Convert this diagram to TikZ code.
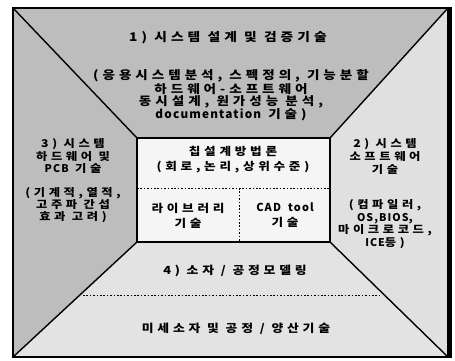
\documentclass[tikz,border=0pt]{standalone}
\usepackage{fontspec}
\newfontfamily\kfont{Noto Sans CJK KR}[FakeStretch=1.15,LetterSpace=34]
\newfontfamily\lfont{Noto Sans CJK KR}[LetterSpace=10]
\begin{document}
\begin{tikzpicture}[x=1bp,y=-1bp,
  frame/.style={line width=1.4bp,black},
  sep/.style={dash pattern=on 1.6bp off 1.8bp,line width=0.8bp},
  txt/.style={inner sep=0pt,align=center,font=\kfont\bfseries\fontsize{11.2}{12}\selectfont},
  ttl/.style={txt,font=\kfont\bfseries\fontsize{12}{12}\selectfont}]
\useasboundingbox (0,0) rectangle (455,360);
% corners
\coordinate (A) at (13,8);
\coordinate (B) at (448,8);
\coordinate (C) at (448,357);
\coordinate (D) at (13,357);
\coordinate (a) at (137,138);
\coordinate (b) at (330,138);
\coordinate (c) at (330,242);
\coordinate (d) at (137,242);
% region fills
\fill[black!26] (A) -- (B) -- (b) -- (a) -- cycle;
\fill[black!26] (A) -- (a) -- (d) -- (D) -- cycle;
\fill[black!12] (B) -- (C) -- (c) -- (b) -- cycle;
\fill[black!11] (D) -- (d) -- (c) -- (C) -- cycle;
\fill[black!4] (a) rectangle (c);
% lines
\draw[frame] (A) rectangle (C);
\draw[line width=3.5bp] (450,7) -- (450,358);
\draw[frame] (A) -- (a) (B) -- (b) (C) -- (c) (D) -- (d);
\draw[frame,line width=1.1bp] (a) rectangle (c);
\coordinate (m1) at (137,188);
\coordinate (m2) at (330,188);
\coordinate (m3) at (239,188);
\coordinate (m4) at (239,242);
\draw[sep] (m1) -- (m2);
\draw[sep] (m3) -- (m4);
\coordinate (p1) at (83,295);
\coordinate (p2) at (379,295);
\draw[sep] (p1) -- (p2);
% texts
\node[ttl] (t1) at (228,38) {1) 시스템 설계 및 검증기술};
\node[txt,font=\kfont\bfseries\fontsize{11.8}{11.7}\selectfont] (t1b) at (231,95.5) {(응용시스템분석, 스펙정의, 기능분할\\하드웨어-소프트웨어\\동시설계, 원가성능 분석,\\{\lfont documentation} 기술)};
\node[txt,font=\kfont\bfseries\fontsize{10.7}{13}\selectfont] (t3) at (73,156) {3) 시스템\\하드웨어 및\\{\lfont PCB} 기술};
\node[txt,font=\kfont\bfseries\fontsize{10.7}{12}\selectfont] (t3b) at (73,205) {(기계적,열적,\\고주파 간섭\\효과 고려)};
\node[txt,font=\kfont\bfseries\fontsize{10.7}{13.5}\selectfont] (t2) at (385,156.5) {2) 시스템\\소프트웨어\\기술};
\node[txt,font=\kfont\bfseries\fontsize{10.7}{12.7}\selectfont] (t2b) at (385,224) {(컴파일러,\\{\lfont OS,BIOS},\\마이크로코드,\\{\lfont ICE}등)};
\node[txt,font=\kfont\bfseries\fontsize{11}{15}\selectfont] (c1) at (233,159.5) {칩설계방법론\\(회로,논리,상위수준)};
\node[txt,font=\kfont\bfseries\fontsize{11}{15}\selectfont] (c2) at (188,215.5) {라이브러리\\기술};
\node[txt,font=\kfont\bfseries\fontsize{11}{15}\selectfont] (c3) at (285,215.5) {{\lfont CAD\ \ tool}\\기술};
\node[txt] (t4) at (235,271) {4) 소자 / 공정모델링};
\node[txt] (t5) at (236,329) {미세소자 및 공정 / 양산기술};
\end{tikzpicture}
\end{document}
